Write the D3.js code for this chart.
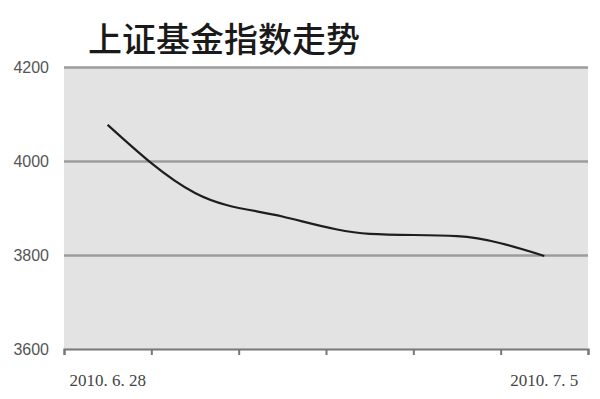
<!DOCTYPE html>
<html>
<head>
<meta charset="utf-8">
<script src="https://cdn.jsdelivr.net/npm/d3@7"></script>
<style>
  body { margin: 0; background: #fff; }
  svg { display: block; }
</style>
</head>
<body>
<div id="chart"></div>
<script>
const categories = ["2010. 6. 28", "2010. 6. 29", "2010. 6. 30", "2010. 7. 1", "2010. 7. 2", "2010. 7. 5"];
const values = [4077, 3932, 3882, 3845, 3840, 3798];
const yTicks = [3600, 3800, 4000, 4200];
const shownLabels = ["2010. 6. 28", "2010. 7. 5"];

const width = 600, height = 399;
const margin = { top: 67, right: 12, bottom: 50, left: 64 };
const innerWidth = width - margin.left - margin.right;
const innerHeight = height - margin.top - margin.bottom;

const svg = d3.select("#chart").append("svg")
  .attr("width", width)
  .attr("height", height);

svg.append("text")
  .attr("x", 88)
  .attr("y", 52)
  .attr("font-family", "'Noto Sans CJK SC', sans-serif")
  .attr("font-size", "34px")
  .attr("font-weight", 500)
  .attr("fill", "#1a1a1a")
  .text("上证基金指数走势");

const chart = svg.append("g")
  .attr("transform", `translate(${margin.left},${margin.top})`);

chart.append("rect")
  .attr("width", innerWidth)
  .attr("height", innerHeight)
  .attr("fill", "#e3e3e3");

const x = d3.scaleBand()
  .domain(categories)
  .range([0, innerWidth])
  .padding(0);

const y = d3.scaleLinear()
  .domain([3600, 4200])
  .range([innerHeight, 0]);

// gridlines + y labels
const yAxis = chart.append("g")
  .call(d3.axisLeft(y).tickValues(yTicks).tickSize(-innerWidth).tickPadding(15).tickFormat(d3.format("d")));
yAxis.select(".domain").remove();
yAxis.selectAll(".tick line")
  .attr("stroke", "#9c9c9c")
  .attr("stroke-width", 2.5)
  .attr("display", (d) => (d === 3600 ? "none" : null));
yAxis.selectAll(".tick text")
  .attr("font-family", "'Liberation Sans', Arial, sans-serif")
  .attr("font-size", "16px")
  .attr("fill", "#555");

// bottom axis: ticks at category boundaries
const bounds = d3.scaleLinear().domain([0, categories.length]).range([0, innerWidth]);
const xAxis = chart.append("g")
  .attr("transform", `translate(0,${innerHeight})`)
  .call(d3.axisBottom(bounds).ticks(categories.length).tickSize(6).tickSizeOuter(6).tickFormat(""));
xAxis.select(".domain").attr("stroke", "#777").attr("stroke-width", 2);
xAxis.selectAll(".tick line").attr("stroke", "#777").attr("stroke-width", 2);

chart.selectAll("text.xlab")
  .data(shownLabels)
  .enter()
  .append("text")
  .attr("class", "xlab")
  .attr("x", (d) => x(d) + x.bandwidth() / 2)
  .attr("y", innerHeight + 37)
  .attr("text-anchor", "middle")
  .attr("font-family", "'Liberation Serif', serif")
  .attr("font-size", "17px")
  .attr("fill", "#444")
  .text((d) => d);

const line = d3.line()
  .x((d, i) => x(categories[i]) + x.bandwidth() / 2)
  .y((d) => y(d))
  .curve(d3.curveMonotoneX);

chart.append("path")
  .datum(values)
  .attr("d", line)
  .attr("fill", "none")
  .attr("stroke", "#1e1e1e")
  .attr("stroke-width", 2.2);
</script>
</body>
</html>
